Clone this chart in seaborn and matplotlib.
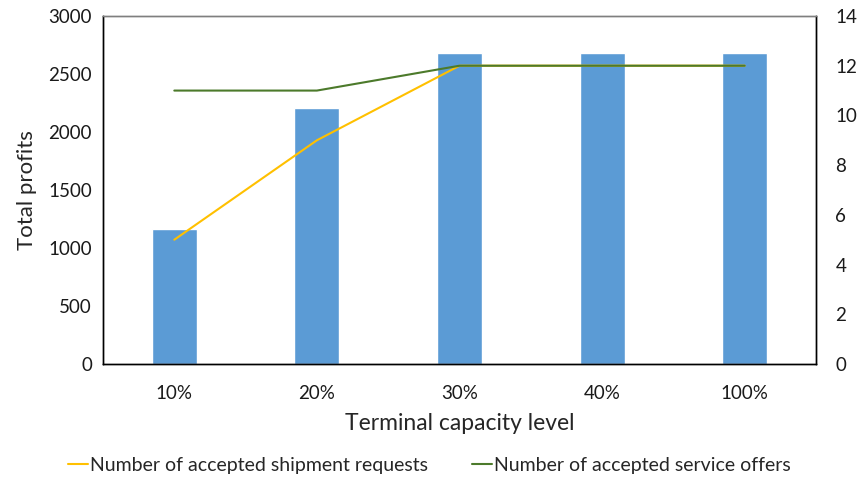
import matplotlib
matplotlib.use("Agg")
import matplotlib.pyplot as plt
import numpy as np
import pandas as pd
import seaborn as sns

# Data
capacity_levels = ["10%", "20%", "30%", "40%", "100%"]
total_profits = [1162, 2204, 2678, 2684, 2684]
accepted_requests = [5, 9, 12, 12, 12]
accepted_offers = [11, 11, 12, 12, 12]

sns.set_theme(style="white")
plt.rcParams["font.family"] = ["Lato", "DejaVu Sans"]

df = pd.DataFrame({
    "level": capacity_levels,
    "pos": np.arange(len(capacity_levels)),
    "profit": total_profits,
    "requests": accepted_requests,
    "offers": accepted_offers,
})

fig = plt.figure(figsize=(8.59, 4.79), dpi=100)
ax = fig.add_axes([103 / 859, 1 - 364 / 479, (816 - 103) / 859, (364 - 16) / 479])

sns.barplot(data=df, x="level", y="profit", color="#5B9BD5", saturation=1,
            width=0.315, ax=ax)
ax.set_xlim(-0.5, 4.5)
ax.set_ylim(0, 3000)
ax.set_yticks(np.arange(0, 3001, 500))
ax.set_xlabel("Terminal capacity level", fontsize=16.5, labelpad=8)
ax.set_ylabel("Total profits", fontsize=16, labelpad=8)
ax.tick_params(axis="both", length=0, labelsize=13.5, colors="#1a1a1a")
ax.tick_params(axis="x", pad=15)
ax.tick_params(axis="y", pad=8)

ax2 = ax.twinx()
sns.lineplot(data=df, x="pos", y="requests", color="#FFC000", linewidth=1.5,
             ax=ax2, label="Number of accepted shipment requests", legend=False)
sns.lineplot(data=df, x="pos", y="offers", color="#4C7A2B", linewidth=1.5,
             ax=ax2, label="Number of accepted service offers", legend=False)
ax2.set_ylim(0, 14)
ax2.set_yticks(np.arange(0, 15, 2))
ax2.set_ylabel("")
ax2.set_xlim(-0.5, 4.5)
ax2.tick_params(axis="y", length=0, labelsize=13.5, colors="#1a1a1a", pad=14)

for a in (ax, ax2):
    for side in ("left", "right", "bottom"):
        a.spines[side].set_color("black")
        a.spines[side].set_linewidth(1.0)
    a.spines["top"].set_color("#7f7f7f")
    a.spines["top"].set_linewidth(1.0)

handles, labels = ax2.get_legend_handles_labels()
fig.legend(handles, labels, loc="center", bbox_to_anchor=(0.5, 1 - 465 / 479),
           ncol=2, frameon=False, fontsize=14, handlelength=1.0,
           handletextpad=0.1, columnspacing=2.3)

fig.savefig("out.png", dpi=100)
